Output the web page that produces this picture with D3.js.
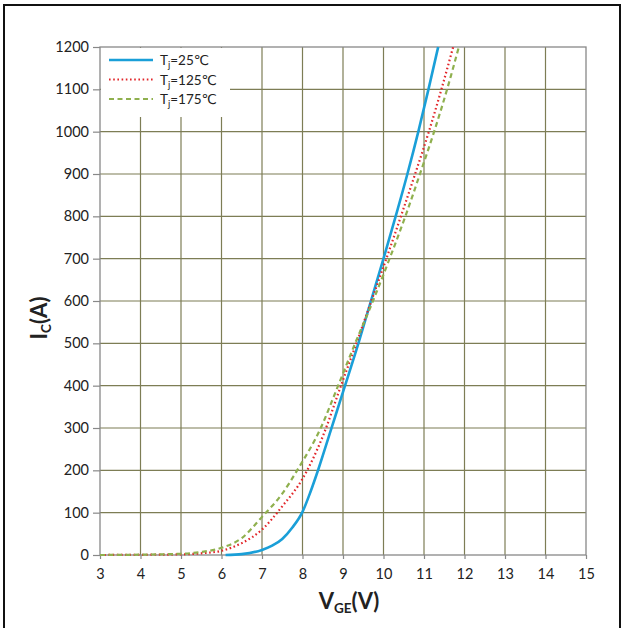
<!DOCTYPE html>
<html>
<head>
<meta charset="utf-8">
<script src="https://cdn.jsdelivr.net/npm/d3@7"></script>
<style>
  html, body { margin: 0; padding: 0; background: #fff; }
  svg { display: block; }
  text { font-family: Lato, "Open Sans", "DejaVu Sans", sans-serif; fill: #222; }
</style>
</head>
<body>
<svg id="chart" width="627" height="628"></svg>
<script>
// Transfer characteristic: collector current vs gate-emitter voltage
const xTicks = [3, 4, 5, 6, 7, 8, 9, 10, 11, 12, 13, 14, 15];
const yTicks = [0, 100, 200, 300, 400, 500, 600, 700, 800, 900, 1000, 1100, 1200];

// [V_GE (V), I_C (A)]
const tj25 = [
  [6.1, 0], [6.5, 2], [7, 12], [7.25, 22], [7.5, 38], [7.75, 65], [8, 102],
  [8.2, 150], [8.4, 205], [8.7, 295], [9.05, 400], [9.38, 500], [9.69, 600],
  [10.0, 700], [10.3, 800], [10.59, 900], [10.86, 1000], [11.11, 1100], [11.35, 1200]
];
const tj125 = [
  [3, 0], [4, 0.5], [5, 1.5], [5.5, 4], [6, 10], [6.5, 28], [7, 60],
  [7.5, 115], [8, 180], [8.5, 280], [8.95, 400], [9.33, 500], [9.7, 600],
  [10.07, 700], [10.43, 800], [10.78, 900], [11.12, 1000], [11.43, 1100], [11.72, 1200]
];
const tj175 = [
  [3, 0], [4, 0.8], [5, 3], [5.5, 7], [6, 17], [6.5, 40], [7, 90],
  [7.5, 145], [7.9, 205], [8.45, 300], [8.88, 400], [9.3, 500], [9.74, 600],
  [10.15, 700], [10.54, 800], [10.9, 900], [11.25, 1000], [11.57, 1100], [11.86, 1200]
];

const seriesNames = ["25", "125", "175"];
const seriesData = [tj25, tj125, tj175];
const seriesColors = ["#1a9fd8", "#e2262a", "#8fb04e"];
const seriesDash = [null, "1.6 2.6", "5 3.5"];

const svg = d3.select("#chart");

// outer frame
svg.append("rect")
  .attr("x", 4).attr("y", 5).attr("width", 616).attr("height", 630)
  .attr("fill", "none").attr("stroke", "#111").attr("stroke-width", 2);

const plotL = 100, plotR = 586, plotT = 47, plotB = 555;
const x = d3.scaleLinear().domain([3, 15]).range([plotL, plotR]);
const y = d3.scaleLinear().domain([0, 1200]).range([plotB, plotT]);

// grid
const grid = svg.append("g");
grid.selectAll("line.v").data(xTicks.slice(1, -1)).join("line")
  .attr("x1", d => x(d)).attr("x2", d => x(d))
  .attr("y1", plotT).attr("y2", plotB)
  .attr("stroke", "#7d7d55").attr("stroke-width", 1.2);
grid.selectAll("line.h").data(yTicks.slice(1, -1)).join("line")
  .attr("x1", plotL).attr("x2", plotR)
  .attr("y1", d => y(d)).attr("y2", d => y(d))
  .attr("stroke", "#7d7d55").attr("stroke-width", 1.2);

// plot border
svg.append("rect")
  .attr("x", plotL).attr("y", plotT).attr("width", plotR - plotL).attr("height", plotB - plotT)
  .attr("fill", "none").attr("stroke", "#888").attr("stroke-width", 1.3);

// axes
const xAxis = svg.append("g")
  .attr("transform", `translate(0,${plotB})`)
  .call(d3.axisBottom(x).tickValues(xTicks).tickSize(4).tickPadding(10).tickFormat(d3.format("d")));
const yAxis = svg.append("g")
  .attr("transform", `translate(${plotL},0)`)
  .call(d3.axisLeft(y).tickValues(yTicks).tickSize(7).tickPadding(4).tickFormat(d3.format("d")));
[xAxis, yAxis].forEach(a => {
  a.select(".domain").remove();
  a.selectAll(".tick line").attr("stroke", "#888").attr("stroke-width", 1.2);
  a.selectAll(".tick text").attr("font-size", 14.5).style("font-family", "Lato, sans-serif").attr("fill", "#222");
});

// legend box (white patch over the grid)
svg.append("rect")
  .attr("x", plotL + 1).attr("y", plotT + 1).attr("width", 129).attr("height", 69)
  .attr("fill", "#fff");

// curves
const line = d3.line()
  .x(d => x(d[0])).y(d => y(d[1]))
  .curve(d3.curveMonotoneX);

seriesData.forEach((s, i) => {
  const p = svg.append("path")
    .datum(s)
    .attr("d", line)
    .attr("fill", "none")
    .attr("stroke", seriesColors[i])
    .attr("stroke-width", i === 0 ? 2.6 : 2.2);
  if (seriesDash[i]) p.attr("stroke-dasharray", seriesDash[i]);
});

// legend
const legend = svg.append("g");
seriesNames.forEach((n, i) => {
  const ly = 60 + i * 19.5;
  const l = legend.append("line")
    .attr("x1", 109).attr("x2", 153).attr("y1", ly).attr("y2", ly)
    .attr("stroke", seriesColors[i]).attr("stroke-width", i === 0 ? 2.6 : 2.2);
  if (seriesDash[i]) l.attr("stroke-dasharray", seriesDash[i]);
  const t = legend.append("text").attr("x", 160).attr("y", ly + 5).attr("font-size", 13.5);
  t.append("tspan").text("T");
  t.append("tspan").attr("font-size", 9.5).attr("dy", 3).text("j");
  t.append("tspan").attr("dy", -3).text("=" + n + "℃");
});

// axis titles
const xt = svg.append("text")
  .attr("x", 349).attr("y", 609).attr("text-anchor", "middle")
  .attr("font-size", 22).attr("font-weight", "bold");
xt.append("tspan").text("V");
xt.append("tspan").attr("font-size", 13.5).attr("dy", 4).text("GE");
xt.append("tspan").attr("dy", -4).text("(V)");

const yt = svg.append("text")
  .attr("transform", "translate(47,318) rotate(-90)")
  .attr("text-anchor", "middle")
  .attr("font-size", 22).attr("font-weight", "bold");
yt.append("tspan").text("I");
yt.append("tspan").attr("font-size", 13.5).attr("dy", 4).text("C");
yt.append("tspan").attr("dy", -4).text("(A)");
</script>
</body>
</html>
